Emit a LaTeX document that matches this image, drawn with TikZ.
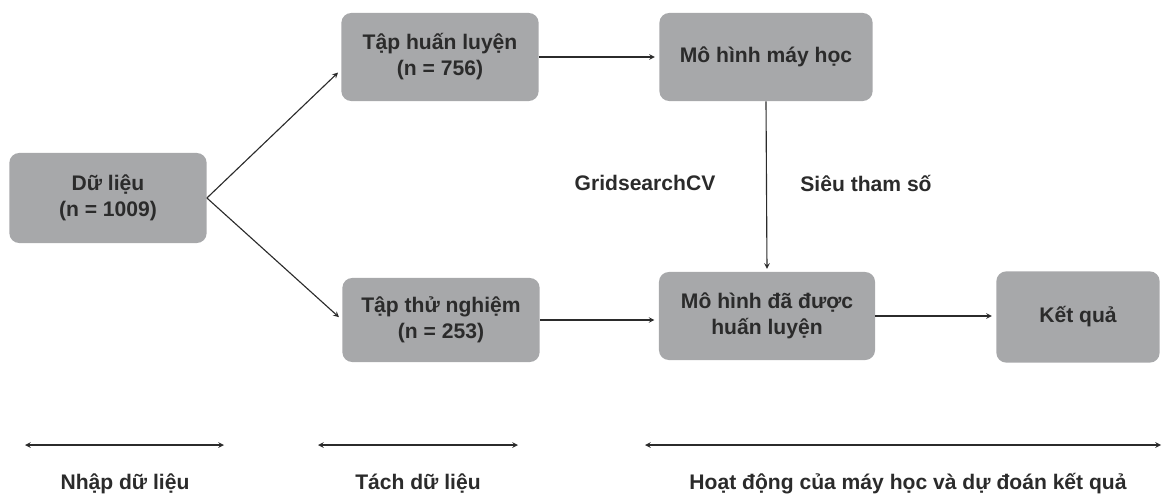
\documentclass[tikz,border=0pt]{standalone}
\usepackage{fontspec}
\setmainfont{Liberation Sans}
\definecolor{boxgray}{HTML}{A7A8AA}
\definecolor{ink}{HTML}{2B2B2B}

\tikzset{
  box/.style={fill=boxgray, rounded corners=7pt, align=center, text=ink,
    font=\fontsize{15}{18.5}\selectfont\bfseries},
  arr/.style={line width=0.8pt, draw=ink, -stealth},
  span/.style={line width=0.8pt, draw=ink, stealth-stealth},
  lbl/.style={text=ink, font=\fontsize{15}{18.5}\selectfont\bfseries}
}

\begin{document}
\begin{tikzpicture}[x=0.025cm, y=-0.025cm]
 \useasboundingbox (0,0) rectangle (1162,500);

 \node[box, minimum width=4.93cm, minimum height=2.25cm] at (108,198) (data) {Dữ liệu\\(n = 1009)};
 \node[box, minimum width=4.93cm, minimum height=2.2cm] at (440,57) (train) {Tập huấn luyện\\(n = 756)};
 \node[box, minimum width=4.93cm, minimum height=2.1cm] at (441,320) (test) {Tập thử nghiệm\\(n = 253)};
 \node[box, minimum width=5.33cm, minimum height=2.2cm] at (766,57) (model) {Mô hình máy học};
 \node[box, minimum width=5.4cm, minimum height=2.2cm] at (767,316) (trained) {Mô hình đã được\\huấn luyện};
 \node[box, minimum width=4.08cm, minimum height=2.28cm] at (1078,317) (result) {Kết quả};

 \draw[arr, shorten >=3pt] (data.east) -- ([yshift=-9pt]train.west);
 \draw[arr, shorten >=3pt] (data.east) -- (test.west);
 \draw[arr, shorten >=3pt] (train.east) -- (model.west);
 \draw[arr, shorten >=2pt] (model.south) -- (trained.north);
 \draw[arr, shorten >=3pt] (test.east) -- (test.east -| trained.west);
 \draw[arr, shorten >=3pt] (trained.east) -- (trained.east -| result.west);

 \node[lbl] at (645,183) (grid) {GridsearchCV};
 \node[lbl] at (866,183) (hyper) {Siêu tham số};

 % spans under the steps
 \coordinate (s1a) at (25,445);   \coordinate (s1b) at (224,445);
 \coordinate (s2a) at (318,445);  \coordinate (s2b) at (518,445);
 \coordinate (s3a) at (645,445);  \coordinate (s3b) at (1161,445);
 \draw[span] (s1a) -- (s1b);
 \draw[span] (s2a) -- (s2b);
 \draw[span] (s3a) -- (s3b);

 \node[lbl] at (125,484) (step1) {Nhập dữ liệu};
 \node[lbl] at (418,484) (step2) {Tách dữ liệu};
 \node[lbl] at (908,484) (step3) {Hoạt động của máy học và dự đoán kết quả};
\end{tikzpicture}
\end{document}
